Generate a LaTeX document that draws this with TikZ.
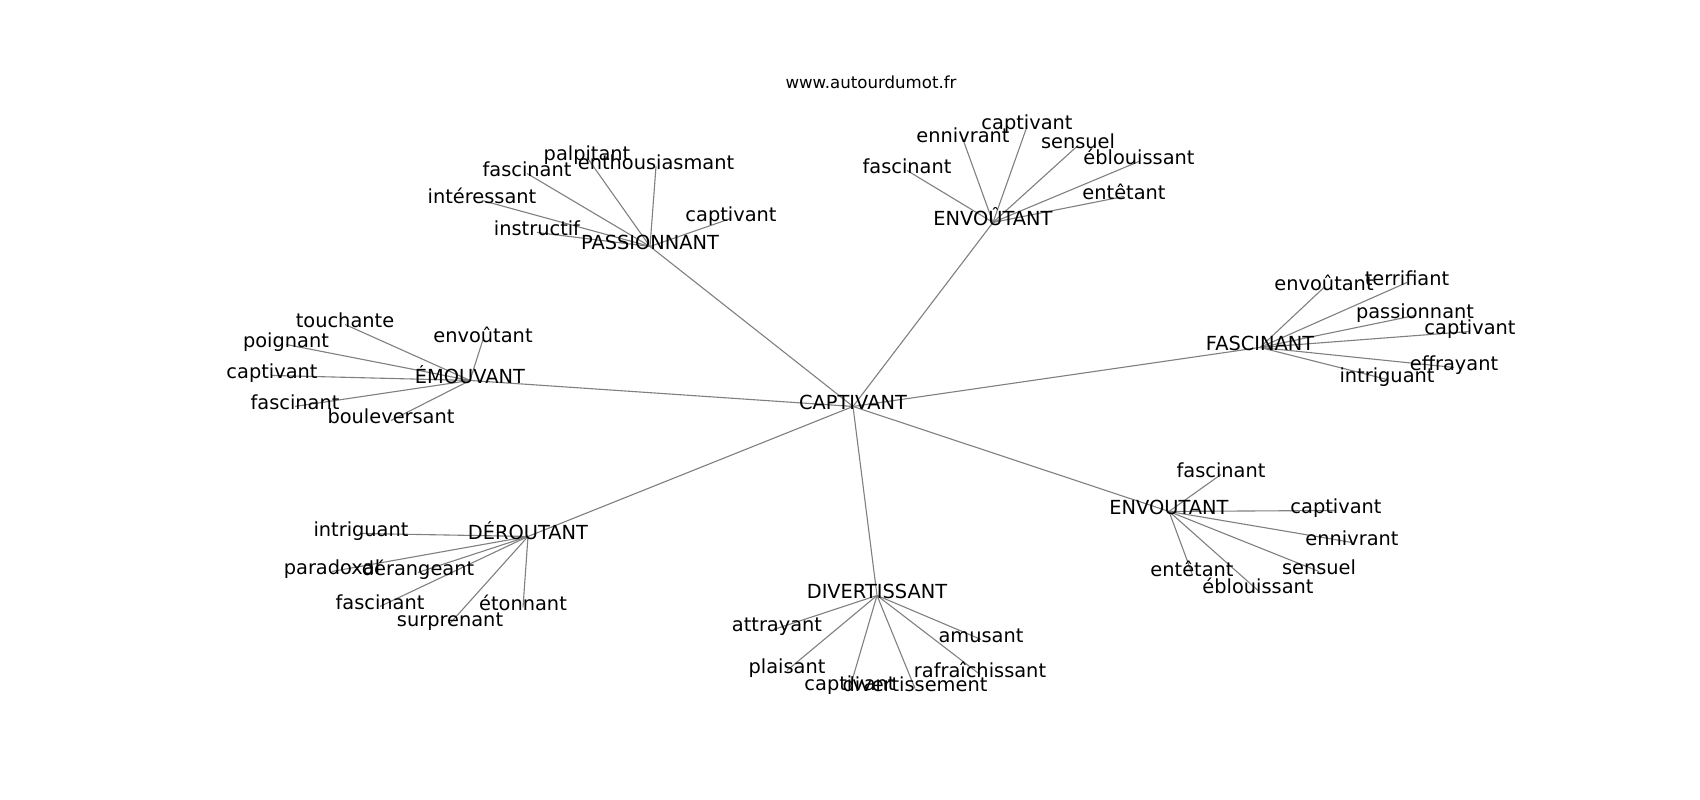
\documentclass[tikz,border=0pt]{standalone}
\usepackage{fontspec}
\setmainfont{DejaVu Sans}
\usetikzlibrary{backgrounds}
\definecolor{edgeGray}{HTML}{808080}

\begin{document}
\begin{tikzpicture}[x=0.01in, y=-0.01in,
    word/.style={font=\fontsize{14}{16}\selectfont, inner sep=0pt, text height=0.75em, text depth=0.24em, yshift=-2.5pt},
    link/.style={draw=edgeGray, line width=0.8pt}]
    \useasboundingbox (0,0) rectangle (1700,800);
    \node[font=\fontsize{12}{14}\selectfont, inner sep=0pt] (site) at (871,82) {www.autourdumot.fr};
    % centre word and its neighbours
    \node[word] (cap) at (853,403) {CAPTIVANT};
    \node[word] (pas) at (650,243) {PASSIONNANT};
    \node[word] (env) at (993,219) {ENVOÛTANT};
    \node[word] (emo) at (470,377) {ÉMOUVANT};
    \node[word] (fas) at (1260,344) {FASCINANT};
    \node[word] (der) at (528,533) {DÉROUTANT};
    \node[word] (enb) at (1169,508) {ENVOUTANT};
    \node[word] (div) at (877,592) {DIVERTISSANT};
    % PASSIONNANT
    \node[word] (pas1) at (587,154) {palpitant};
    \node[word] (pas2) at (527,170) {fascinant};
    \node[word] (pas3) at (656,163) {enthousiasmant};
    \node[word] (pas4) at (482,197) {intéressant};
    \node[word] (pas5) at (537,229) {instructif};
    \node[word] (pas6) at (731,215) {captivant};
    % ENVOÛTANT
    \node[word] (env1) at (907,167) {fascinant};
    \node[word] (env2) at (963,136) {ennivrant};
    \node[word] (env3) at (1027,123) {captivant};
    \node[word] (env4) at (1078,142) {sensuel};
    \node[word] (env5) at (1139,158) {éblouissant};
    \node[word] (env6) at (1124,193) {entêtant};
    % ÉMOUVANT
    \node[word] (emo1) at (345,321) {touchante};
    \node[word] (emo2) at (483,336) {envoûtant};
    \node[word] (emo3) at (286,341) {poignant};
    \node[word] (emo4) at (272,372) {captivant};
    \node[word] (emo5) at (295,403) {fascinant};
    \node[word] (emo6) at (391,417) {bouleversant};
    % FASCINANT
    \node[word] (fas1) at (1324,284) {envoûtant};
    \node[word] (fas2) at (1407,279) {terrifiant};
    \node[word] (fas3) at (1415,312) {passionnant};
    \node[word] (fas4) at (1470,328) {captivant};
    \node[word] (fas5) at (1454,364) {effrayant};
    \node[word] (fas6) at (1387,376) {intriguant};
    % DÉROUTANT
    \node[word] (der1) at (361,530) {intriguant};
    \node[word] (der2) at (332,568) {paradoxal};
    \node[word] (der3) at (418,569) {dérangeant};
    \node[word] (der4) at (380,603) {fascinant};
    \node[word] (der5) at (450,620) {surprenant};
    \node[word] (der6) at (523,604) {étonnant};
    % ENVOUTANT
    \node[word] (enb1) at (1221,471) {fascinant};
    \node[word] (enb2) at (1336,507) {captivant};
    \node[word] (enb3) at (1352,539) {ennivrant};
    \node[word] (enb4) at (1319,568) {sensuel};
    \node[word] (enb5) at (1192,570) {entêtant};
    \node[word] (enb6) at (1258,587) {éblouissant};
    % DIVERTISSANT
    \node[word] (div1) at (777,625) {attrayant};
    \node[word] (div2) at (981,636) {amusant};
    \node[word] (div3) at (787,667) {plaisant};
    \node[word] (div4) at (980,671) {rafraîchissant};
    \node[word] (div5) at (850,684) {captivant};
    \node[word] (div6) at (915,685) {divertissement};
    % links under the words
    \begin{scope}[on background layer]
        \foreach \h in {pas, env, emo, fas, der, enb, div} {
            \draw[link] (cap.center) -- (\h.center);
            \foreach \i in {1,...,6} \draw[link] (\h.center) -- (\h\i.center);
        }
    \end{scope}
\end{tikzpicture}
\end{document}
